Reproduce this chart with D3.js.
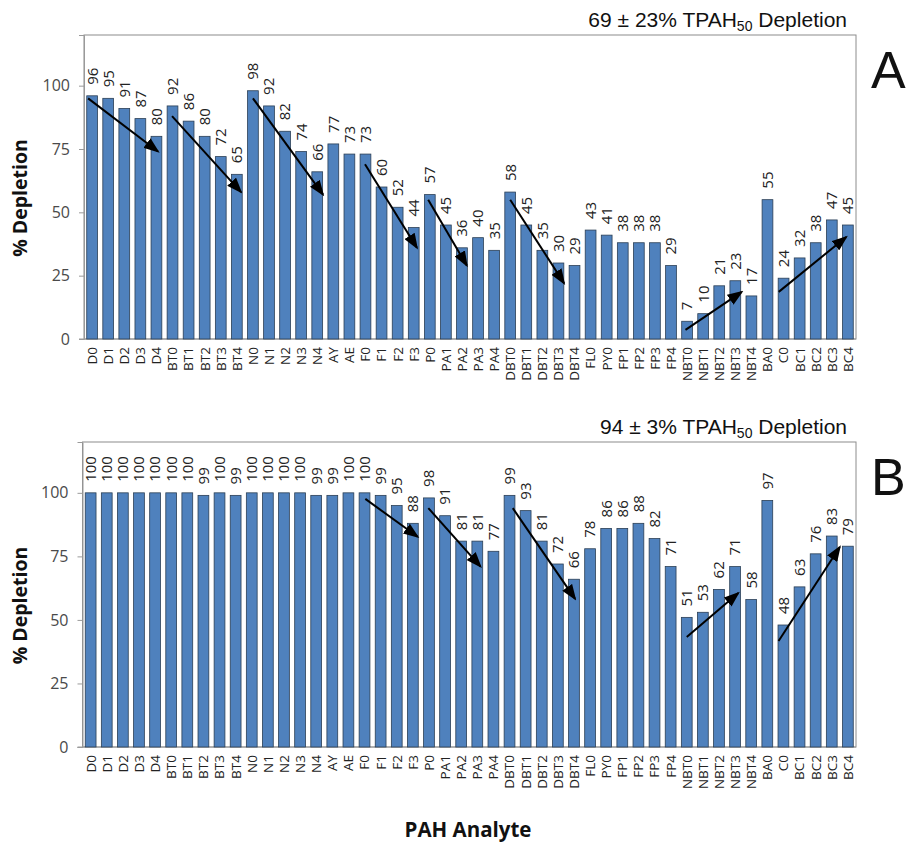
<!DOCTYPE html>
<html><head>
<script src="https://d3js.org/d3.v7.min.js"></script>
<style>
  body { margin: 0; background: #fff; }
  text { font-family: "Open Sans", sans-serif; }
  .box { fill: none; stroke: #8c8c8c; stroke-width: 1px; }
  .axis line, .axis path { stroke: #9a9a9a; }
  .bar { fill: #4f81bd; stroke: #2b3f55; stroke-width: 0.8px; }
</style>
</head>
<body>
<script>
// categories
const analytes = ["D0","D1","D2","D3","D4","BT0","BT1","BT2","BT3","BT4",
  "N0","N1","N2","N3","N4","AY","AE","F0","F1","F2","F3","P0","PA1","PA2","PA3","PA4",
  "DBT0","DBT1","DBT2","DBT3","DBT4","FL0","PY0","FP1","FP2","FP3","FP4",
  "NBT0","NBT1","NBT2","NBT3","NBT4","BA0","C0","BC1","BC2","BC3","BC4"];

// % depletion, panel A and B
const depletionA = [96,95,91,87,80,92,86,80,72,65,98,92,82,74,66,77,73,73,60,52,44,57,45,36,40,35,
  58,45,35,30,29,43,41,38,38,38,29,7,10,21,23,17,55,24,32,38,47,45];
const depletionB = [100,100,100,100,100,100,100,99,100,99,100,100,100,100,99,99,100,100,99,95,88,98,91,81,81,77,
  99,93,81,72,66,78,86,86,88,82,71,51,53,62,71,58,97,48,63,76,83,79];

const yTicks = [0, 25, 50, 75, 100];

// trend arrows: [from band index, from value, to band index, to value]
const arrowsA = [[-0.25,95,4.1,74],[4.97,88,9.26,58],[10.0,95,14.36,57],[16.97,69,20.2,36],
  [20.9,55,23.3,29],[26.0,55,29.35,22],[36.9,3.6,40.4,18.6],[42.7,18.6,46.9,40.3]];
const arrowsB = [[17.05,97.6,20.3,82.7],[20.96,94,24.2,71],[26.2,94,30.07,58.3],
  [37.0,43.3,40.2,60.6],[42.7,41.7,46.5,78.7]];

const svg = d3.select("body").append("svg")
  .attr("width", 907).attr("height", 843)

svg.append("defs").append("marker")
  .attr("id", "head")
  .attr("markerUnits", "userSpaceOnUse")
  .attr("markerWidth", 16).attr("markerHeight", 12)
  .attr("refX", 14).attr("refY", 6)
  .attr("orient", "auto")
  .append("path").attr("d", "M0,0 L16,6 L0,12 Z").attr("fill", "#000")

function drawPanel(values, arrows, box, title, letter) {
  const x = d3.scaleBand().domain(analytes)
    .range([box.left, box.right]).paddingInner(0.33).paddingOuter(0.17)
  const y = d3.scaleLinear().domain([0, 120]).range([box.bottom, box.top])
  const idx = i => x(analytes[0]) + x.bandwidth() / 2 + i * x.step()

  // plot border
  svg.append("rect").attr("class", "box")
    .attr("x", box.left).attr("y", box.top)
    .attr("width", box.right - box.left).attr("height", box.bottom - box.top)

  // y axis
  const yAxis = svg.append("g").attr("class", "axis")
    .attr("transform", "translate(" + box.left + ",0)")
    .call(d3.axisLeft(y).tickValues(yTicks).tickSize(5).tickPadding(9))
  yAxis.selectAll("text").style("font-size", "16px").attr("fill", "#4a4a4a")
    .style("font-family", "Open Sans")

  // x axis
  const xAxis = svg.append("g").attr("class", "axis")
    .attr("transform", "translate(0," + box.bottom + ")")
    .call(d3.axisBottom(x).tickSize(0).tickPadding(0))
  xAxis.select(".domain").attr("d", "M" + (box.left - 5) + ",0H" + box.right)
  xAxis.selectAll("text")
    .attr("transform", "rotate(-90)")
    .attr("x", -8).attr("y", 0).attr("dy", "0.36em")
    .style("text-anchor", "end").style("font-size", "13.5px")
    .style("font-family", "Open Sans").attr("fill", "#222")

  // bars
  svg.append("g").selectAll("rect").data(values).join("rect")
    .attr("class", "bar")
    .attr("x", (d, i) => x(analytes[i]))
    .attr("y", d => y(d))
    .attr("width", x.bandwidth())
    .attr("height", d => y(0) - y(d))

  // value labels
  svg.append("g").selectAll("text").data(values).join("text")
    .attr("transform", (d, i) => "translate(" + (x(analytes[i]) + x.bandwidth() / 2) + "," + (y(d) - 11) + ") rotate(-90)")
    .attr("dy", "0.36em")
    .style("font-size", "15px").attr("fill", "#222")
    .text(d => d)

  // arrows
  svg.append("g").selectAll("line").data(arrows).join("line")
    .attr("x1", d => idx(d[0])).attr("y1", d => y(d[1]))
    .attr("x2", d => idx(d[2])).attr("y2", d => y(d[3]))
    .attr("stroke", "#000").attr("stroke-width", 2)
    .attr("marker-end", "url(#head)")

  // title
  const t = svg.append("text")
    .attr("x", 847).attr("y", box.top - 8)
    .attr("text-anchor", "end")
    .style("font-family", "Liberation Sans, Arial, sans-serif")
    .style("font-size", "21px").attr("fill", "#111")
  t.append("tspan").text(title[0])
  t.append("tspan").attr("dy", 4).style("font-size", "14px").text(title[1])
  t.append("tspan").attr("dy", -4).text(title[2])

  svg.append("text")
    .attr("x", 871).attr("y", box.top + 53)
    .style("font-family", "Liberation Sans, Arial, sans-serif")
    .style("font-size", "52px").attr("fill", "#111")
    .text(letter)

  svg.append("text")
    .attr("transform", "translate(27," + ((box.top + box.bottom) / 2 + 11) + ") rotate(-90)")
    .attr("text-anchor", "middle")
    .style("font-size", "19.5px").style("font-weight", "bold").attr("fill", "#111")
    .text("% Depletion")
}

drawPanel(depletionA, arrowsA, {left: 84, right: 856, top: 35, bottom: 339},
  ["69 ± 23% TPAH", "50", " Depletion"], "A")
drawPanel(depletionB, arrowsB, {left: 82.5, right: 856, top: 442, bottom: 747},
  ["94 ± 3% TPAH", "50", " Depletion"], "B")

svg.append("text")
  .attr("x", 468).attr("y", 837)
  .attr("text-anchor", "middle")
  .style("font-size", "20.5px").style("font-weight", "bold").attr("fill", "#111")
  .text("PAH Analyte")
</script>
</body></html>
